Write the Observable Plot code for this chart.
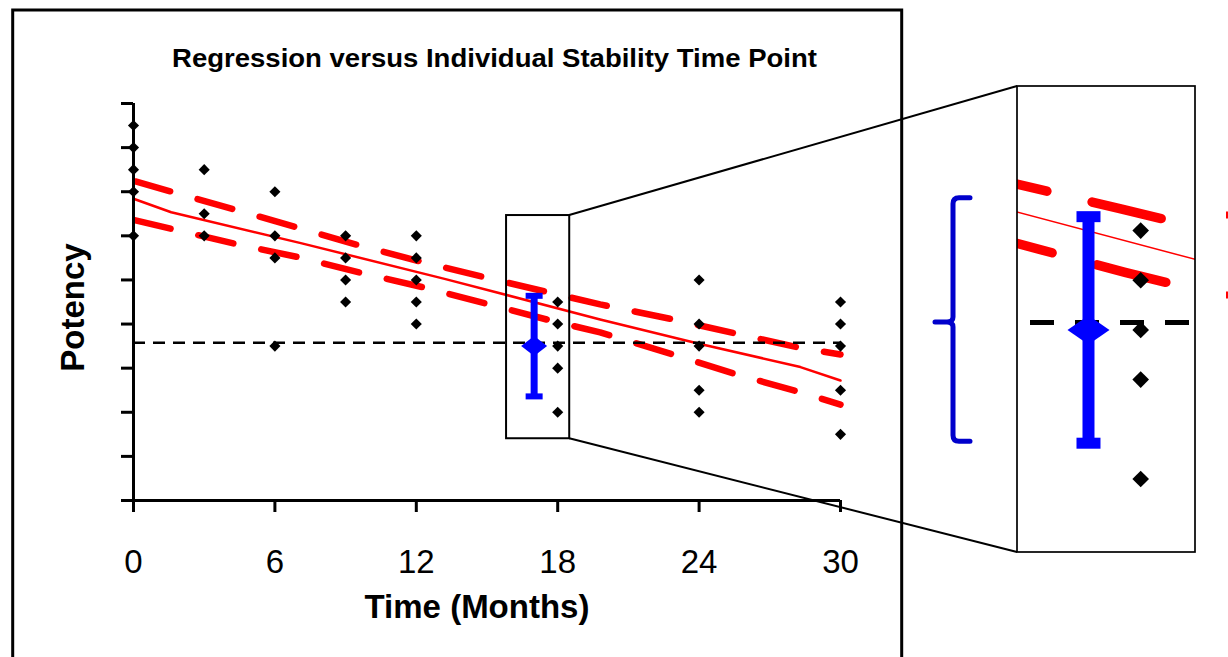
<!DOCTYPE html>
<html><head><meta charset="utf-8">
<script src="https://cdn.jsdelivr.net/npm/d3@7"></script>
<script src="https://cdn.jsdelivr.net/npm/@observablehq/plot@0.6"></script>
<style>
html,body{margin:0;padding:0;background:#fff;}
#wrap{position:relative;width:1228px;height:657px;overflow:hidden;background:#fff;font-family:"Liberation Sans",Arial,sans-serif;}
#wrap > svg, #wrap > div{position:absolute;}
.main [aria-label*="axis"] line, .main [aria-label*="axis"] path{stroke-width:3px;stroke:#000;}
.main [aria-label*="axis"] text{fill:#000;}
</style></head><body><div id="wrap"></div>
<script>
// ---------------- data ----------------
const dotMonths  = [0,0,0,0,0, 3,3,3, 6,6,6,6, 9,9,9,9, 12,12,12,12,12, 18,18,18,18,18, 24,24,24,24,24, 30,30,30,30,30];
const dotPotency = [107,106,105,104,102, 105,103,102, 104,102,101,97, 102,101,100,99, 102,101,100,99,98, 99,98,97,96,94, 100,98,97,95,94, 99,98,97,95,93];

const fitMonths  = [0, 1.6, 7.1, 13.2, 19.8, 24.0, 28.3, 30];
const fitPotency = [103.68, 103.07, 101.67, 100.05, 98.21, 97.11, 96.05, 95.44];

const upperMonths  = [0, 4.3, 7.0, 9.6, 12.3, 14.9, 17.6, 19.8, 22.9, 25.6, 28.3, 30];
const upperPotency = [104.49, 103.19, 102.36, 101.56, 100.8, 100.12, 99.44, 98.89, 98.21, 97.56, 96.92, 96.62];

const lowerMonths  = [0, 4.3, 7.0, 9.7, 12.4, 15.0, 17.7, 19.8, 22.9, 25.6, 28.3, 30];
const lowerPotency = [102.72, 101.64, 101.03, 100.31, 99.64, 98.92, 98.16, 97.62, 96.62, 95.71, 94.91, 94.35];

const specLimit = [97.15];
const meanMonth = [17];
const meanPotency = [97];
const meanLow = [94.72];
const meanHigh = [99.28];

const xTicks = [0, 6, 12, 18, 24, 30];
const yTicks = [90, 92, 94, 96, 98, 100, 102, 104, 106, 108];
const xDomain = [0, 30];
const yDomain = [90, 108];

const insetMonths = [15.83, 18.51];
const insetPotency = [92.8, 102.92];
const zoomMonths = [15.64, 19.05];
const zoomPotency = [92.52, 101.9];
const bracketPotency = [94.75, 99.65];

const titleText = "Regression versus Individual Stability Time Point";
const xLabel = "Time (Months)";
const yLabel = "Potency";

// ---------------- helpers ----------------
const red = "#FF0000", blue = "#0000FF", bracketBlue = "#0000CC";
const toRows = (xs, ys) => xs.map((x, i) => ({month: x, potency: ys[i]}));
const dots = toRows(dotMonths, dotPotency);
const fit = toRows(fitMonths, fitPotency);
const upper = toRows(upperMonths, upperPotency);
const lower = toRows(lowerMonths, lowerPotency);
const mean = meanMonth.map((m, i) => ({month: m, potency: meanPotency[i], lo: meanLow[i], hi: meanHigh[i]}));

function diamondSymbol(hw, hh) {
  return {draw(ctx) { ctx.moveTo(0, -hh); ctx.lineTo(hw, 0); ctx.lineTo(0, hh); ctx.lineTo(-hw, 0); ctx.closePath(); }};
}
function rectSymbol(w, h) {
  return {draw(ctx) { ctx.moveTo(-w/2, -h/2); ctx.lineTo(w/2, -h/2); ctx.lineTo(w/2, h/2); ctx.lineTo(-w/2, h/2); ctx.closePath(); }};
}
function dashOffset(rows, fx, fy, targetPx, period) {
  let s = 0;
  for (let i = 1; i < rows.length; i++) {
    const x0 = fx(rows[i-1].month), y0 = fy(rows[i-1].potency), x1 = fx(rows[i].month), y1 = fy(rows[i].potency);
    const seg = Math.hypot(x1 - x0, y1 - y0);
    if (targetPx <= x1) { s += Math.max(0, (targetPx - x0) / (x1 - x0)) * seg; break; }
    s += seg;
  }
  return ((-s) % period + period) % period;
}

const wrap = document.getElementById("wrap");

// ---------------- main chart ----------------
const W = 1228, H = 657;
const mL = 133, mR = 388, mT = 103, mB = 157;
const fxMain = d3.scaleLinear(xDomain, [mL, W - mR]);
const fyMain = d3.scaleLinear(yDomain, [H - mB, mT]);
const mainDash = [36, 28.5];
const mainPeriod = mainDash[0] + mainDash[1];

const main = Plot.plot({
  width: W, height: H,
  marginLeft: mL, marginRight: mR, marginTop: mT, marginBottom: mB,
  className: "main",
  style: {fontSize: "33px", fontFamily: "Liberation Sans, Arial, sans-serif", background: "transparent", overflow: "visible", color: "#000"},
  x: {domain: xDomain, ticks: xTicks, tickSize: 12, tickPadding: 37, label: null, tickFormat: d => String(d)},
  y: {domain: yDomain, ticks: yTicks, tickSize: 12, tickFormat: () => "", label: null},
  marks: [
    Plot.line(upper, {x: "month", y: "potency", stroke: red, strokeWidth: 6.5, strokeLinecap: "round",
      strokeDasharray: mainDash.join(","), strokeDashoffset: dashOffset(upper, fxMain, fyMain, 135, mainPeriod)}),
    Plot.line(lower, {x: "month", y: "potency", stroke: red, strokeWidth: 6.5, strokeLinecap: "round",
      strokeDasharray: mainDash.join(","), strokeDashoffset: dashOffset(lower, fxMain, fyMain, 135, mainPeriod)}),
    Plot.line(fit, {x: "month", y: "potency", stroke: red, strokeWidth: 2.5}),
    Plot.ruleY(specLimit, {stroke: "#000", strokeWidth: 2.5, strokeDasharray: "12,8"}),
    Plot.ruleX(mean, {x: "month", y1: "lo", y2: "hi", stroke: blue, strokeWidth: 7}),
    Plot.dot(mean, {x: "month", y: "lo", symbol: rectSymbol(17, 6), fill: blue, stroke: "none"}),
    Plot.dot(mean, {x: "month", y: "hi", symbol: rectSymbol(17, 6), fill: blue, stroke: "none"}),
    Plot.dot(mean, {x: "month", y: "potency", symbol: diamondSymbol(13, 10), fill: blue, stroke: "none"}),
    Plot.dot(dots, {x: "month", y: "potency", symbol: "diamond2", r: 5, fill: "#000", stroke: "none"}),
    Plot.ruleX([xDomain[0]], {stroke: "#000", strokeWidth: 3}),
    Plot.ruleY([yDomain[0]], {stroke: "#000", strokeWidth: 3}),
    Plot.rect([{x1: insetMonths[0], x2: insetMonths[1], y1: insetPotency[0], y2: insetPotency[1]}],
      {x1: "x1", x2: "x2", y1: "y1", y2: "y2", fill: "none", stroke: "#000", strokeWidth: 2})
  ]
});
main.style.left = "0px"; main.style.top = "0px";
wrap.appendChild(main);

// ---------------- zoom panel ----------------
const P = {left: 1017, top: 86, width: 178, height: 466};
const fxZ = d3.scaleLinear(zoomMonths, [0, P.width]);
const fyZ = d3.scaleLinear(zoomPotency, [P.height, 0]);
const zDash = [71, 46.5];
const zPeriod = zDash[0] + zDash[1];
const panelDiv = document.createElement("div");
Object.assign(panelDiv.style, {left: P.left + "px", top: P.top + "px", width: P.width + "px", height: P.height + "px", overflow: "hidden"});
const panel = Plot.plot({
  width: P.width, height: P.height, margin: 0,
  style: {background: "transparent", overflow: "hidden"},
  x: {domain: zoomMonths, axis: null},
  y: {domain: zoomPotency, axis: null},
  marks: [
    Plot.line(upper, {x: "month", y: "potency", stroke: red, strokeWidth: 9.5, strokeLinecap: "round", clip: true,
      strokeDasharray: zDash.join(","), strokeDashoffset: dashOffset(upper, fxZ, fyZ, 74.6, zPeriod)}),
    Plot.line(lower, {x: "month", y: "potency", stroke: red, strokeWidth: 9.5, strokeLinecap: "round", clip: true,
      strokeDasharray: zDash.join(","), strokeDashoffset: dashOffset(lower, fxZ, fyZ, 79.5, zPeriod)}),
    Plot.line(fit, {x: "month", y: "potency", stroke: red, strokeWidth: 1.5, clip: true}),
    Plot.ruleY(specLimit, {stroke: "#000", strokeWidth: 5, strokeDasharray: "24,21", strokeDashoffset: 32}),
    Plot.ruleX(mean, {x: "month", y1: "lo", y2: "hi", stroke: blue, strokeWidth: 12, clip: true}),
    Plot.dot(mean, {x: "month", y: "lo", symbol: rectSymbol(24, 11), fill: blue, stroke: "none"}),
    Plot.dot(mean, {x: "month", y: "hi", symbol: rectSymbol(24, 11), fill: blue, stroke: "none"}),
    Plot.dot(mean, {x: "month", y: "potency", symbol: diamondSymbol(21, 14.5), fill: blue, stroke: "none"}),
    Plot.dot(dots, {x: "month", y: "potency", symbol: "diamond2", r: 7.5, fill: "#000", stroke: "none", clip: true})
  ]
});
panelDiv.appendChild(panel);
wrap.appendChild(panelDiv);

// ---------------- overlay: frame, texts, connectors, bracket ----------------
const ov = d3.create("svg").attr("width", W).attr("height", H)
  .style("left", "0px").style("top", "0px").style("pointer-events", "none")
  .attr("font-family", "Liberation Sans, Arial, sans-serif");

// outer chart frame
ov.append("path").attr("d", `M12.7,${H + 20} V10 H901.7 V${H + 20}`).attr("fill", "none").attr("stroke", "#000").attr("stroke-width", 3);

// title & axis labels
ov.append("text").attr("x", 494.5).attr("y", 66.5).attr("text-anchor", "middle")
  .attr("font-size", 26).attr("font-weight", "bold").attr("textLength", 645).attr("lengthAdjust", "spacingAndGlyphs").text(titleText);
ov.append("text").attr("x", 477).attr("y", 618).attr("text-anchor", "middle")
  .attr("font-size", 33).attr("font-weight", "bold").text(xLabel);
ov.append("text").attr("transform", "translate(84,307.5) rotate(-90)").attr("text-anchor", "middle")
  .attr("font-size", 33).attr("font-weight", "bold").text(yLabel);

// connectors from inset box to zoom panel
const sx = main.scale("x"), sy = main.scale("y");
const bx = sx.apply(insetMonths[1]), byTop = sy.apply(insetPotency[1]), byBot = sy.apply(insetPotency[0]);
ov.append("line").attr("x1", bx).attr("y1", byTop).attr("x2", P.left).attr("y2", P.top).attr("stroke", "#000").attr("stroke-width", 2);
ov.append("line").attr("x1", bx).attr("y1", byBot).attr("x2", P.left).attr("y2", P.top + P.height).attr("stroke", "#000").attr("stroke-width", 2);

// panel frame
ov.append("rect").attr("x", P.left).attr("y", P.top).attr("width", P.width).attr("height", P.height)
  .attr("fill", "none").attr("stroke", "#000").attr("stroke-width", 1.7);

// blue curly bracket
const bTop = P.top + fyZ(bracketPotency[1]), bBot = P.top + fyZ(bracketPotency[0]), bMid = P.top + fyZ(specLimit[0]);
const bx0 = 953, r = 6;
ov.append("path").attr("d",
  `M970,${bTop} H${bx0 + r} Q${bx0},${bTop} ${bx0},${bTop + r} V${bMid - 5} Q${bx0},${bMid} ${bx0 - 6},${bMid} H935 ` +
  `M${bx0 - 6},${bMid} Q${bx0},${bMid} ${bx0},${bMid + 5} V${bBot - r} Q${bx0},${bBot} ${bx0 + r},${bBot} H970`)
  .attr("fill", "none").attr("stroke", bracketBlue).attr("stroke-width", 5).attr("stroke-linecap", "round");

// clipped red marks at the right edge
ov.append("rect").attr("x", 1226).attr("y", 211.5).attr("width", 4).attr("height", 7).attr("fill", red);
ov.append("rect").attr("x", 1226).attr("y", 291.5).attr("width", 4).attr("height", 7).attr("fill", red);

wrap.appendChild(ov.node());
</script></body></html>
